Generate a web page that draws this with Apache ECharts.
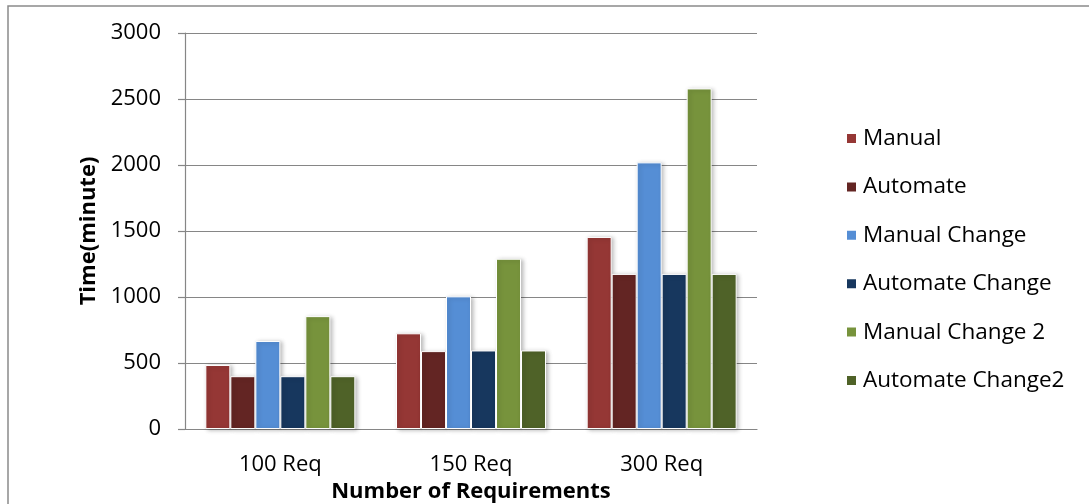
<!DOCTYPE html>
<html>
<head>
<meta charset="utf-8">
<script src="https://cdn.jsdelivr.net/npm/echarts@6/dist/echarts.min.js"></script>
<style>
  html, body { margin: 0; padding: 0; background: #fff; }
  #chart { width: 1089px; height: 504px; }
</style>
</head>
<body>
<div id="chart"></div>
<script>
// Time needed per requirement set, in minutes
const categories = ['100 Req', '150 Req', '300 Req'];
const manual = [485, 725, 1455];
const automate = [400, 590, 1175];
const manualChange = [667, 1005, 2020];
const automateChange = [400, 595, 1175];
const manualChange2 = [855, 1290, 2580];
const automateChange2 = [400, 595, 1175];
const yTicks = [0, 500, 1000, 1500, 2000, 2500, 3000];

const FONT = '"Open Sans", "Liberation Sans", sans-serif';

const seriesDefs = [
  { name: 'Manual', data: manual, color: '#953735' },
  { name: 'Automate', data: automate, color: '#632523' },
  { name: 'Manual Change', data: manualChange, color: '#558ED5' },
  { name: 'Automate Change', data: automateChange, color: '#17375E' },
  { name: 'Manual Change 2', data: manualChange2, color: '#77933C' },
  { name: 'Automate Change2', data: automateChange2, color: '#4F6228' }
];

const chart = echarts.init(document.getElementById('chart'), null, { renderer: 'canvas' });

chart.setOption({
  animation: false,
  backgroundColor: '#fff',
  textStyle: { fontFamily: FONT },
  graphic: [{
    type: 'rect',
    shape: { x: 8, y: 6, width: 1200, height: 600 },
    style: { fill: 'none', stroke: '#8a8a8a', lineWidth: 1.5 },
    silent: true
  }],
  grid: { left: 185, right: 332, top: 33, bottom: 75, outerBoundsMode: 'none' },
  legend: {
    orient: 'vertical',
    left: 840,
    top: 122,
    icon: 'rect',
    itemWidth: 11,
    itemHeight: 11,
    itemGap: 25.4,
    textStyle: { fontFamily: FONT, fontSize: 22.5, color: '#000', lineHeight: 20, padding: [0, 0, 0, 1] },
    data: seriesDefs.map(s => s.name)
  },
  xAxis: {
    type: 'category',
    data: categories,
    name: 'Number of Requirements',
    nameLocation: 'middle',
    nameGap: 51,
    nameTextStyle: { fontFamily: FONT, fontSize: 22, fontWeight: 'bold', color: '#000' },
    axisLine: { lineStyle: { color: '#868686', width: 1.2 } },
    axisTick: { show: false },
    axisLabel: { fontFamily: FONT, fontSize: 22, color: '#000', margin: 25 }
  },
  yAxis: {
    type: 'value',
    min: yTicks[0],
    max: yTicks[yTicks.length - 1],
    interval: yTicks[1] - yTicks[0],
    name: 'Time(minute)',
    nameLocation: 'middle',
    nameGap: 85,
    nameTextStyle: { fontFamily: FONT, fontSize: 22, fontWeight: 'bold', color: '#000' },
    axisLine: { show: true, lineStyle: { color: '#868686', width: 1.2 } },
    axisTick: { show: true, length: 7, lineStyle: { color: '#868686', width: 1.2 } },
    axisLabel: { fontFamily: FONT, fontSize: 22, color: '#000', margin: 24, formatter: v => String(v) },
    splitLine: { lineStyle: { color: '#868686', width: 1.2 } }
  },
  series: seriesDefs.map(s => ({
    name: s.name,
    type: 'bar',
    data: s.data,
    barWidth: 25,
    barGap: '0%',
    itemStyle: {
      color: s.color,
      borderColor: '#fff',
      borderWidth: 1,
      shadowColor: 'rgba(0,0,0,0.25)',
      shadowBlur: 4,
      shadowOffsetX: 2,
      shadowOffsetY: 1
    }
  }))
});
</script>
</body>
</html>
